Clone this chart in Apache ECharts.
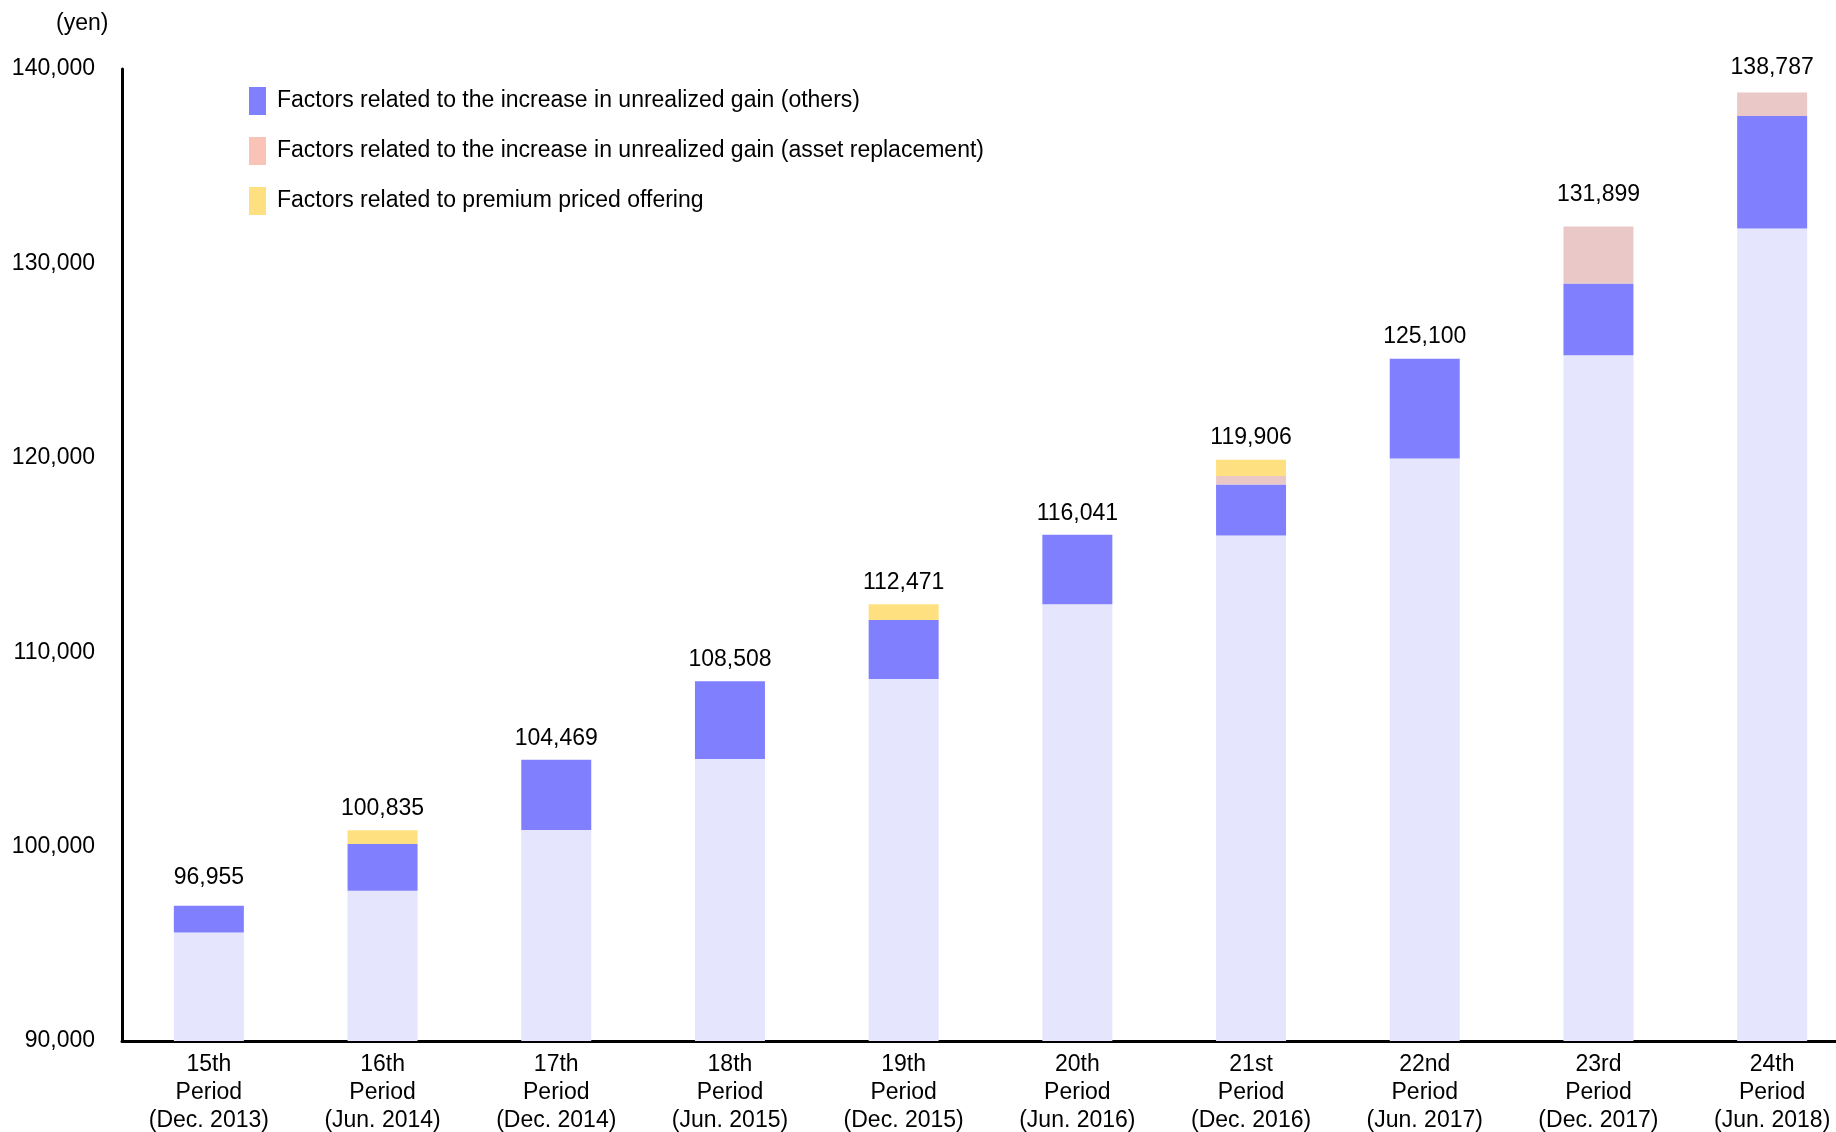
<!DOCTYPE html>
<html>
<head>
<meta charset="utf-8">
<script src="https://cdn.jsdelivr.net/npm/echarts@6/dist/echarts.min.js"></script>
<style>
html,body{margin:0;padding:0;background:#fff;overflow:hidden;width:1836px;height:1132px;}
#c{width:1870px;height:1132px;}
</style>
</head>
<body>
<div id="c"></div>
<script>
var categories = ["15th\nPeriod\n(Dec. 2013)","16th\nPeriod\n(Jun. 2014)","17th\nPeriod\n(Dec. 2014)","18th\nPeriod\n(Jun. 2015)","19th\nPeriod\n(Dec. 2015)","20th\nPeriod\n(Jun. 2016)","21st\nPeriod\n(Dec. 2016)","22nd\nPeriod\n(Jun. 2017)","23rd\nPeriod\n(Dec. 2017)","24th\nPeriod\n(Jun. 2018)"];
var baseValues = [95580, 97730, 100860, 104510, 108620, 112465, 116000, 119970, 125280, 131800];
var othersValues = [1375, 2400, 3609, 3998, 3030, 3576, 2630, 5130, 3690, 5780];
var assetValues = [0, 0, 0, 0, 0, 0, 430, 0, 2929, 1207];
var premiumValues = [0, 705, 0, 0, 821, 0, 846, 0, 0, 0];
var totals = [96955, 100835, 104469, 108508, 112471, 116041, 119906, 125100, 131899, 138787];
var yTicks = {min: 90000, max: 140000, interval: 10000};
var names = ["Factors related to the increase in unrealized gain (others)",
             "Factors related to the increase in unrealized gain (asset replacement)",
             "Factors related to premium priced offering"];

var FONT = '"Liberation Sans", Arial, sans-serif';
var chart = echarts.init(document.getElementById('c'), null, {renderer: 'canvas'});
var bw = 70;
// small per-bar label lifts (style only, px)
var labelLift = {0: 7, 8: 10, 9: 3};
var totalData = totals.map(function (v, i) {
  var item = {value: v};
  if (labelLift[i]) item.label = {distance: 10 + labelLift[i]};
  return item;
});
chart.setOption({
  animation: false,
  backgroundColor: '#ffffff',
  textStyle: {fontFamily: FONT},
  graphic: [{type: 'text', left: 56, top: 12, style: {text: '(yen)', font: '23px ' + FONT, fill: '#000'}}],
  legend: {
    orient: 'vertical', left: 244, top: 82,
    itemWidth: 17, itemHeight: 28, itemGap: 22,
    selectedMode: false,
    icon: 'rect',
    textStyle: {fontSize: 23, color: '#000', fontFamily: FONT, padding: [0, 0, 0, 6]},
    data: [
      {name: names[0], itemStyle: {color: '#8080FF'}},
      {name: names[1], itemStyle: {color: '#F9C3B7'}},
      {name: names[2], itemStyle: {color: '#FFE080'}}
    ]
  },
  grid: {left: 122, top: 69, width: 1737, height: 972, containLabel: false, outerBoundsMode: 'none'},
  xAxis: {
    type: 'category', data: categories,
    axisLine: {show: true, lineStyle: {color: '#000', width: 3}},
    axisTick: {show: false},
    axisLabel: {color: '#000', fontSize: 23, lineHeight: 28, margin: 10, fontFamily: FONT, interval: 0}
  },
  yAxis: {
    type: 'value', min: yTicks.min, max: yTicks.max, interval: yTicks.interval,
    axisLine: {show: true, lineStyle: {color: '#000', width: 3}},
    axisTick: {show: false},
    splitLine: {show: false},
    axisLabel: {color: '#000', fontSize: 23, margin: 27, fontFamily: FONT,
      formatter: function (v) { return v.toLocaleString('en-US'); }}
  },
  series: [
    {name: 'base', type: 'bar', stack: 'a', barWidth: bw, barGap: '-100%', data: baseValues,
     itemStyle: {color: '#E5E5FD'}, silent: true},
    {name: names[0], type: 'bar', stack: 'a', barWidth: bw, barGap: '-100%', data: othersValues,
     itemStyle: {color: '#8080FF'}, silent: true},
    {name: names[1], type: 'bar', stack: 'a', barWidth: bw, barGap: '-100%', data: assetValues,
     itemStyle: {color: '#EBC8C8'}, silent: true},
    {name: names[2], type: 'bar', stack: 'a', barWidth: bw, barGap: '-100%', data: premiumValues,
     itemStyle: {color: '#FFE080'}, silent: true},
    {name: 'total', type: 'bar', barWidth: bw, barGap: '-100%', data: totalData, z: 1,
     itemStyle: {color: 'rgba(0,0,0,0)'}, silent: true,
     label: {show: true, position: 'top', distance: 10, color: '#000', fontSize: 23, fontFamily: FONT,
       formatter: function (p) { return p.value.toLocaleString('en-US'); }}}
  ]
});
</script>
</body>
</html>
